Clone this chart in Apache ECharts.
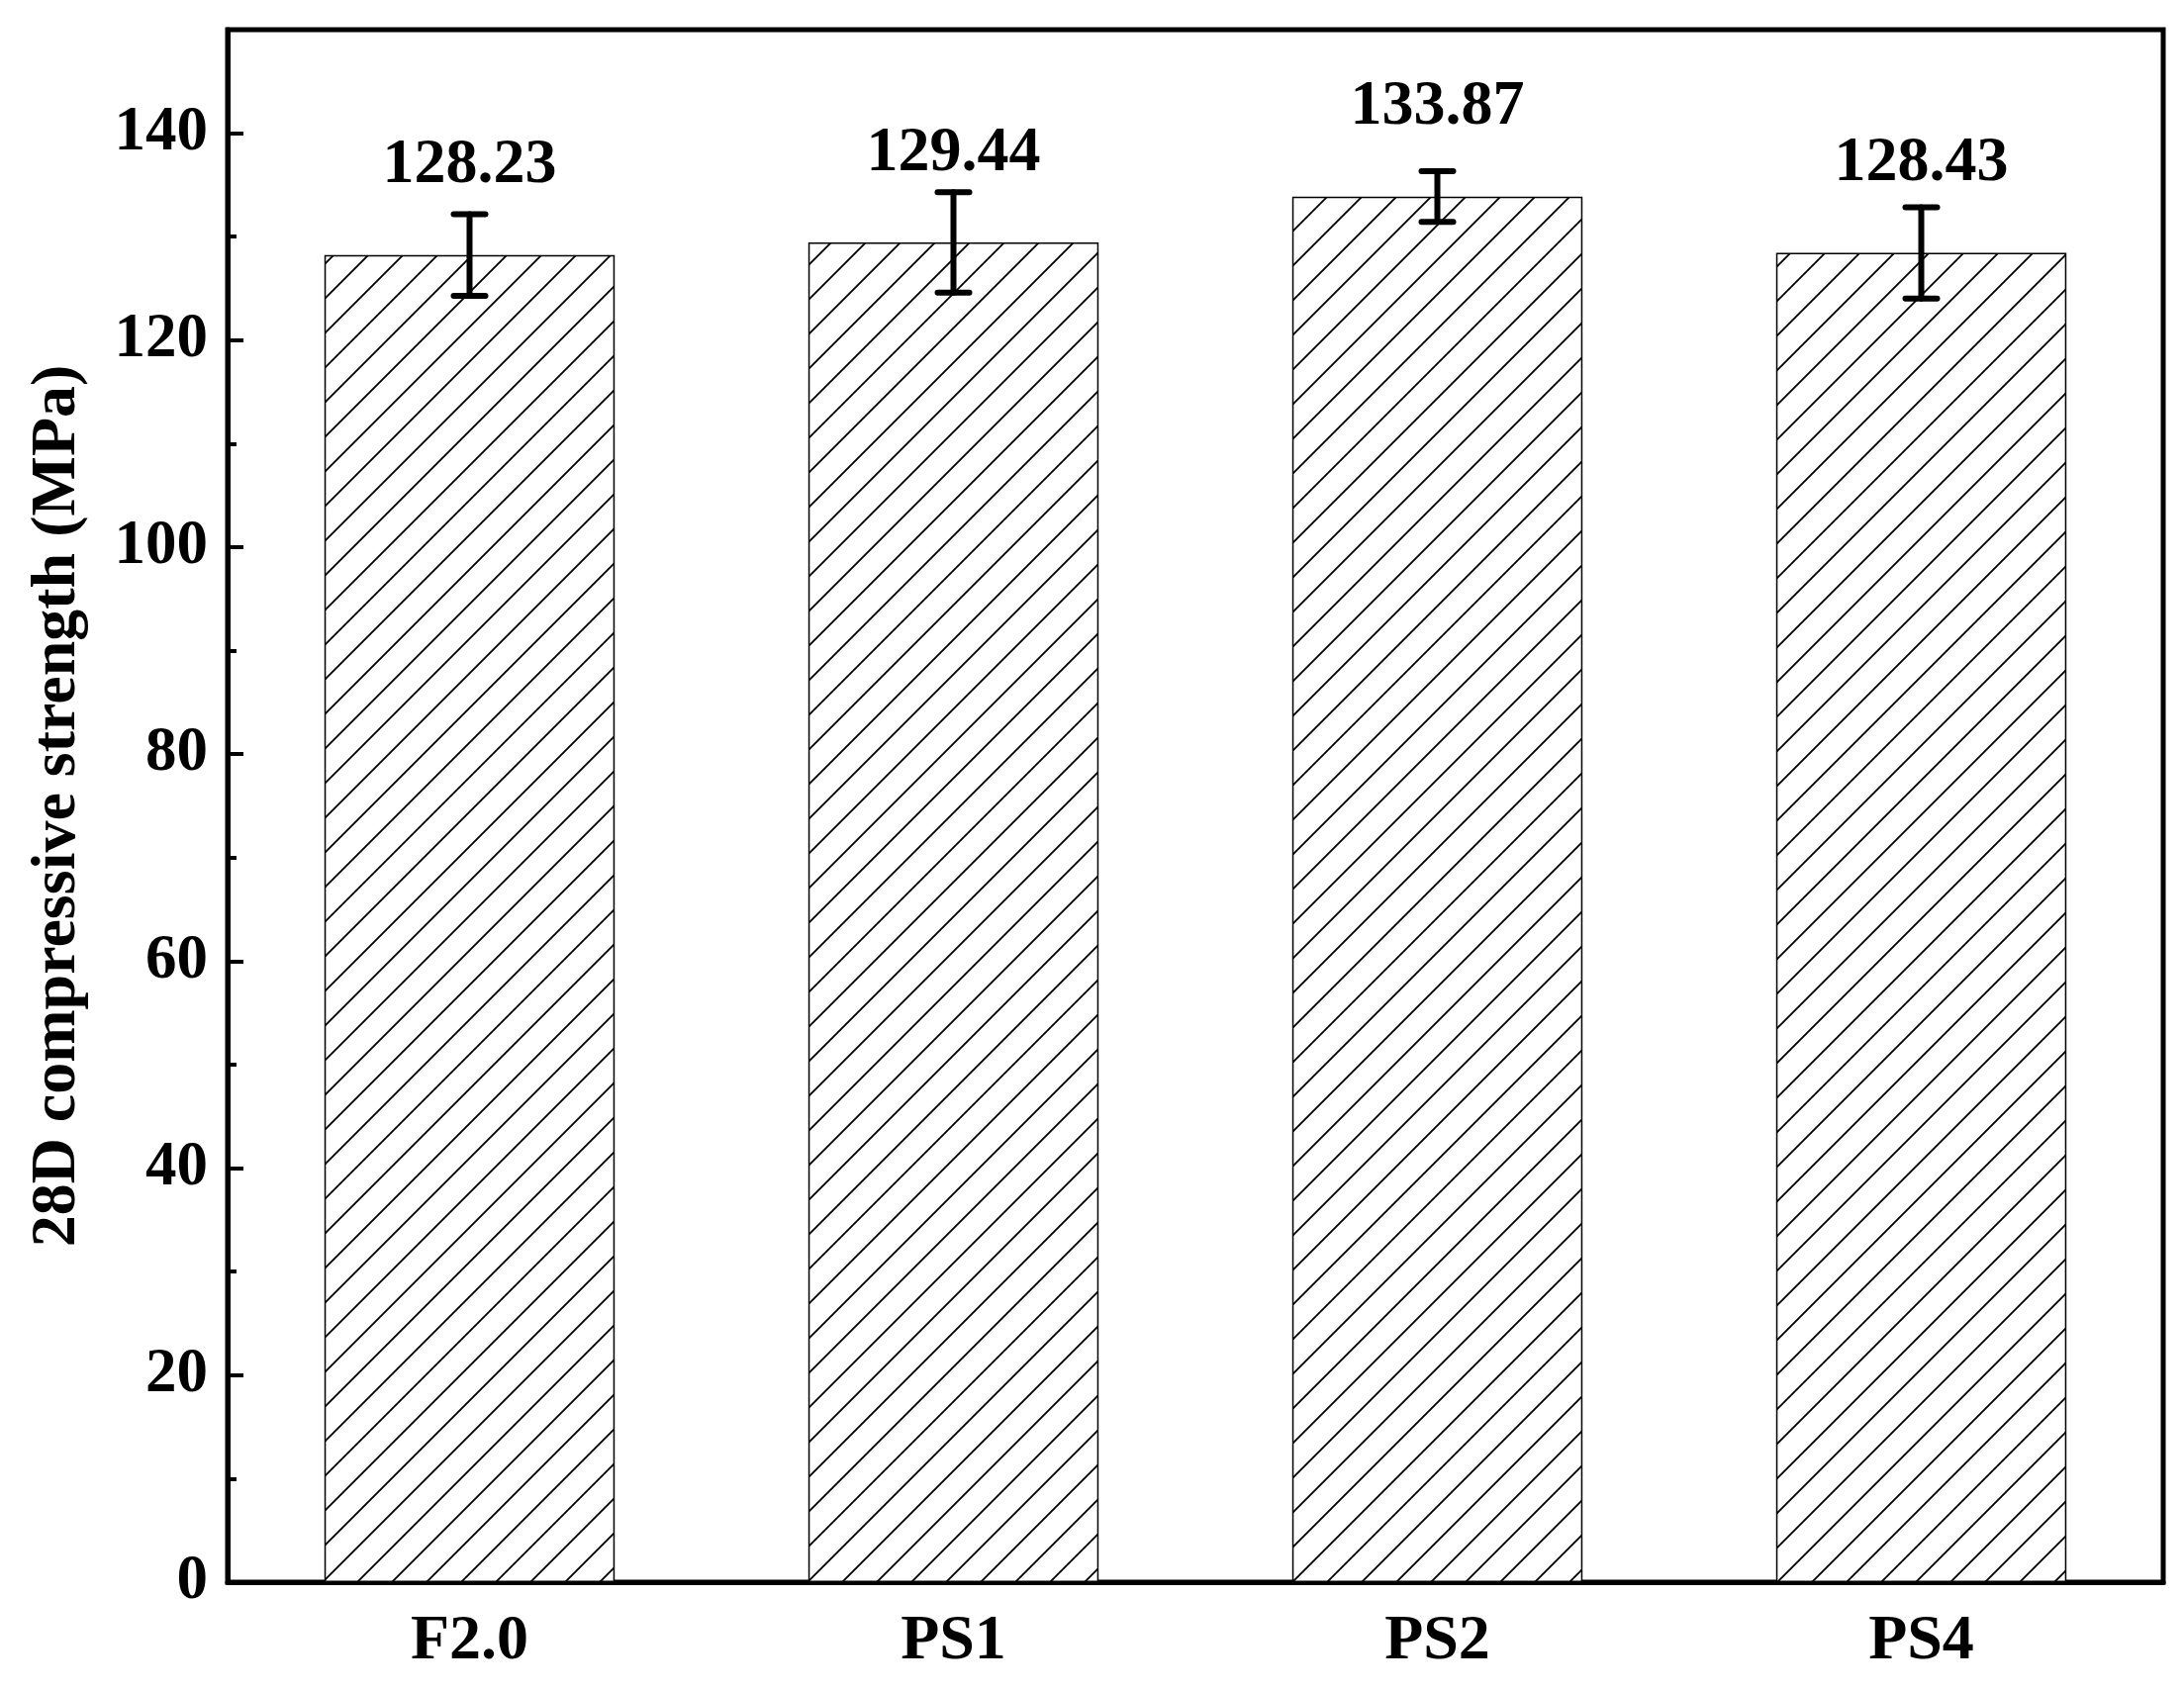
<!DOCTYPE html>
<html>
<head>
<meta charset="utf-8">
<script src="https://cdn.jsdelivr.net/npm/echarts@6/dist/echarts.min.js"></script>
<style>html,body{margin:0;padding:0;background:#fff}#c{width:2207px;height:1709px}</style>
</head>
<body>
<div id="c"></div>
<script>
var categories = ['F2.0', 'PS1', 'PS2', 'PS4'];
var strength = [128.23, 129.44, 133.87, 128.43];
var strengthLabels = ['128.23', '129.44', '133.87', '128.43'];
var errors = [3.95, 4.85, 2.45, 4.4];
var majorTicks = [0, 20, 40, 60, 80, 100, 120, 140];
var minorTicks = [10, 30, 50, 70, 90, 110, 130];

var FONT = '"Liberation Serif", "Times New Roman", serif';

function makeHatch() {
  var s = 35;
  var c = document.createElement('canvas');
  c.width = s; c.height = s;
  var g = c.getContext('2d');
  g.fillStyle = '#fff';
  g.fillRect(0, 0, s, s);
  g.strokeStyle = '#000';
  g.lineWidth = 1.8;
  g.beginPath();
  g.moveTo(-2, s + 2); g.lineTo(s + 2, -2);
  g.moveTo(-2, 2); g.lineTo(2, -2);
  g.moveTo(s - 2, s + 2); g.lineTo(s + 2, s - 2);
  g.stroke();
  return c;
}

var chart = echarts.init(document.getElementById('c'));
var errData = categories.map(function (c, i) { return [i, strength[i], errors[i]]; });

chart.setOption({
  animation: false,
  backgroundColor: '#fff',
  grid: { left: 230, right: 21, top: 30, bottom: 110, show: true, borderColor: '#000', borderWidth: 5, backgroundColor: 'transparent' },
  xAxis: {
    type: 'category',
    data: categories,
    axisLine: { lineStyle: { color: '#000', width: 5 } },
    axisTick: { show: false },
    axisLabel: { color: '#000', fontFamily: FONT, fontWeight: 'bold', fontSize: 64, margin: 28 }
  },
  yAxis: [{
    type: 'value',
    min: 0, max: 150, interval: 10,
    name: '28D compressive strength (MPa)',
    nameLocation: 'middle',
    nameGap: 140,
    nameTextStyle: { color: '#000', fontFamily: FONT, fontWeight: 'bold', fontSize: 64 },
    axisLine: { show: true, lineStyle: { color: '#000', width: 5 } },
    axisTick: { show: true, inside: true, length: 16, lineStyle: { color: '#000', width: 4 }, customValues: majorTicks },
    axisLabel: { color: '#000', fontFamily: FONT, fontWeight: 'bold', fontSize: 63, margin: 20, customValues: majorTicks },
    splitLine: { show: false }
  }, {
    type: 'value',
    min: 0, max: 150, interval: 10,
    position: 'left',
    axisLine: { show: false },
    axisTick: { show: true, inside: true, length: 9, lineStyle: { color: '#000', width: 4 }, customValues: minorTicks },
    axisLabel: { show: false },
    splitLine: { show: false }
  }],
  series: [{
    type: 'bar',
    data: strength,
    barWidth: '60%',
    itemStyle: { color: { image: makeHatch(), repeat: 'repeat' }, borderColor: '#000', borderWidth: 1.5 },
    label: {
      show: true, position: 'top', distance: 58,
      color: '#000', fontFamily: FONT, fontWeight: 'bold', fontSize: 64,
      formatter: function (p) { return strengthLabels[p.dataIndex]; }
    },
    z: 2
  }, {
    type: 'custom',
    data: errData,
    z: 5,
    renderItem: function (params, api) {
      var x = api.value(0), m = api.value(1), e = api.value(2);
      var hi = api.coord([x, m + e]);
      var lo = api.coord([x, m - e]);
      var hw = 16;
      var st = { stroke: '#000', lineWidth: 6, lineCap: 'round' };
      return {
        type: 'group',
        children: [
          { type: 'line', shape: { x1: hi[0], y1: hi[1], x2: lo[0], y2: lo[1] }, style: st },
          { type: 'line', shape: { x1: hi[0] - hw, y1: hi[1], x2: hi[0] + hw, y2: hi[1] }, style: st },
          { type: 'line', shape: { x1: lo[0] - hw, y1: lo[1], x2: lo[0] + hw, y2: lo[1] }, style: st }
        ]
      };
    }
  }]
});
</script>
</body>
</html>
